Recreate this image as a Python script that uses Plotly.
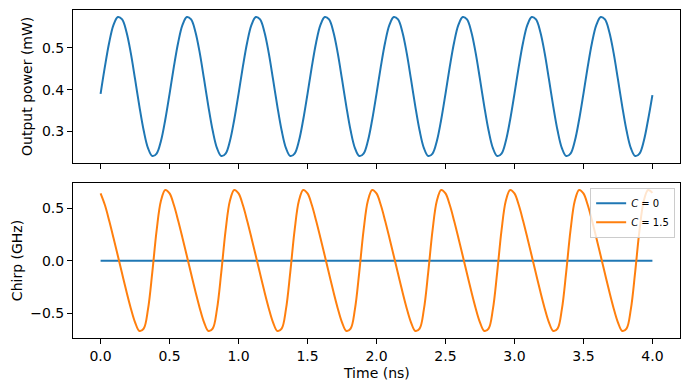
import numpy as np
import plotly.graph_objects as go
from plotly.subplots import make_subplots

# Time grid (ns), 129 samples from 0 to 4 ns
time_ns = np.linspace(0.0, 4.0, 129)

# Output power (mW)
power_mw = [
    0.390, 0.455, 0.513, 0.555, 0.574, 0.568, 0.538, 0.488, 0.425, 0.360, 0.302, 0.260, 0.241, 0.247, 0.277, 0.328,
    0.390, 0.455, 0.513, 0.555, 0.574, 0.568, 0.538, 0.488, 0.425, 0.360, 0.302, 0.260, 0.241, 0.247, 0.277, 0.328,
    0.390, 0.455, 0.513, 0.555, 0.574, 0.568, 0.538, 0.488, 0.425, 0.360, 0.302, 0.260, 0.241, 0.247, 0.277, 0.328,
    0.390, 0.455, 0.513, 0.555, 0.574, 0.568, 0.538, 0.488, 0.425, 0.360, 0.302, 0.260, 0.241, 0.247, 0.277, 0.328,
    0.390, 0.455, 0.513, 0.555, 0.574, 0.568, 0.538, 0.488, 0.425, 0.360, 0.302, 0.260, 0.241, 0.247, 0.277, 0.328,
    0.390, 0.455, 0.513, 0.555, 0.574, 0.568, 0.538, 0.488, 0.425, 0.360, 0.302, 0.260, 0.241, 0.247, 0.277, 0.328,
    0.390, 0.455, 0.513, 0.555, 0.574, 0.568, 0.538, 0.488, 0.425, 0.360, 0.302, 0.260, 0.241, 0.247, 0.277, 0.328,
    0.390, 0.455, 0.513, 0.555, 0.574, 0.568, 0.538, 0.488, 0.425, 0.360, 0.302, 0.260, 0.241, 0.247, 0.277, 0.328,
    0.387,
]

# Chirp (GHz) for C = 1.5
chirp_c15 = [
    0.640, 0.529, 0.380, 0.216, 0.046, -0.125, -0.294, -0.452, -0.587, -0.669, -0.646, -0.461, -0.109, 0.288, 0.569, 0.673,
    0.640, 0.529, 0.380, 0.216, 0.046, -0.125, -0.294, -0.452, -0.587, -0.669, -0.646, -0.461, -0.109, 0.288, 0.569, 0.673,
    0.640, 0.529, 0.380, 0.216, 0.046, -0.125, -0.294, -0.452, -0.587, -0.669, -0.646, -0.461, -0.109, 0.288, 0.569, 0.673,
    0.640, 0.529, 0.380, 0.216, 0.046, -0.125, -0.294, -0.452, -0.587, -0.669, -0.646, -0.461, -0.109, 0.288, 0.569, 0.673,
    0.640, 0.529, 0.380, 0.216, 0.046, -0.125, -0.294, -0.452, -0.587, -0.669, -0.646, -0.461, -0.109, 0.288, 0.569, 0.673,
    0.640, 0.529, 0.380, 0.216, 0.046, -0.125, -0.294, -0.452, -0.587, -0.669, -0.646, -0.461, -0.109, 0.288, 0.569, 0.673,
    0.640, 0.529, 0.380, 0.216, 0.046, -0.125, -0.294, -0.452, -0.587, -0.669, -0.646, -0.461, -0.109, 0.288, 0.569, 0.673,
    0.640, 0.529, 0.380, 0.216, 0.046, -0.125, -0.294, -0.452, -0.587, -0.669, -0.646, -0.461, -0.109, 0.288, 0.569, 0.673,
    0.645,
]

# Chirp (GHz) for C = 0
chirp_c0 = [0.0] * 129

series_names = ["<i>C</i> = 0", "<i>C</i> = 1.5"]
x_ticks = [0.0, 0.5, 1.0, 1.5, 2.0, 2.5, 3.0, 3.5, 4.0]
axis_titles = ["Output power (mW)", "Chirp (GHz)", "Time (ns)"]

FONT = "DejaVu Sans"
FS = 14
BLUE = "#1f77b4"
ORANGE = "#ff7f0e"

fig = make_subplots(rows=2, cols=1, shared_xaxes=False, vertical_spacing=0.0)

fig.add_trace(go.Scatter(x=time_ns, y=power_mw, mode="lines",
                         line=dict(color=BLUE, width=2, shape="spline"),
                         showlegend=False), row=1, col=1)
fig.add_trace(go.Scatter(x=time_ns, y=chirp_c0, mode="lines", name=series_names[0],
                         line=dict(color=BLUE, width=2)), row=2, col=1)
fig.add_trace(go.Scatter(x=time_ns, y=chirp_c15, mode="lines", name=series_names[1],
                         line=dict(color=ORANGE, width=2, shape="spline")), row=2, col=1)

axis_common = dict(showline=True, linecolor="black", linewidth=1, mirror=True,
                   ticks="outside", ticklen=5, tickwidth=1, tickcolor="black",
                   showgrid=False, zeroline=False, automargin=False,
                   tickfont=dict(family=FONT, size=FS, color="black"))

fig.update_layout(
    width=690, height=390,
    margin=dict(l=73, r=10, t=10, b=52),
    paper_bgcolor="white", plot_bgcolor="white",
    font=dict(family=FONT, size=FS, color="black"),
    xaxis=dict(domain=[0, 1], range=[-0.2, 4.2], tickvals=x_ticks, showticklabels=False,
               anchor="y", **axis_common),
    yaxis=dict(domain=[0.5335, 1.0], range=[0.2243, 0.5907], dtick=0.1, tickformat=".1f",
               anchor="x", **axis_common),
    xaxis2=dict(domain=[0, 1], range=[-0.2, 4.2], tickvals=x_ticks, tickformat=".1f",
                anchor="y2", **axis_common),
    yaxis2=dict(domain=[0.0, 0.4716], range=[-0.736, 0.736], tickvals=[-0.5, 0.0, 0.5],
                tickformat=".1f", anchor="x2", **axis_common),
    legend=dict(x=0.992, y=0.458, xanchor="right", yanchor="top",
                bgcolor="rgba(255,255,255,0.8)", bordercolor="#cccccc", borderwidth=1,
                font=dict(family=FONT, size=10, color="black"),
                tracegroupgap=0, itemwidth=30),
)

title_font = dict(family=FONT, size=FS, color="black")
fig.add_annotation(text=axis_titles[0], xref="paper", yref="paper", x=-0.075, y=0.767,
                   xanchor="center", yanchor="middle", textangle=-90, showarrow=False,
                   font=title_font)
fig.add_annotation(text=axis_titles[1], xref="paper", yref="paper", x=-0.093, y=0.236,
                   xanchor="center", yanchor="middle", textangle=-90, showarrow=False,
                   font=title_font)
fig.add_annotation(text=axis_titles[2], xref="paper", yref="paper", x=0.5, y=-0.107,
                   xanchor="center", yanchor="middle", showarrow=False,
                   font=title_font)

fig.write_html("out.html")
